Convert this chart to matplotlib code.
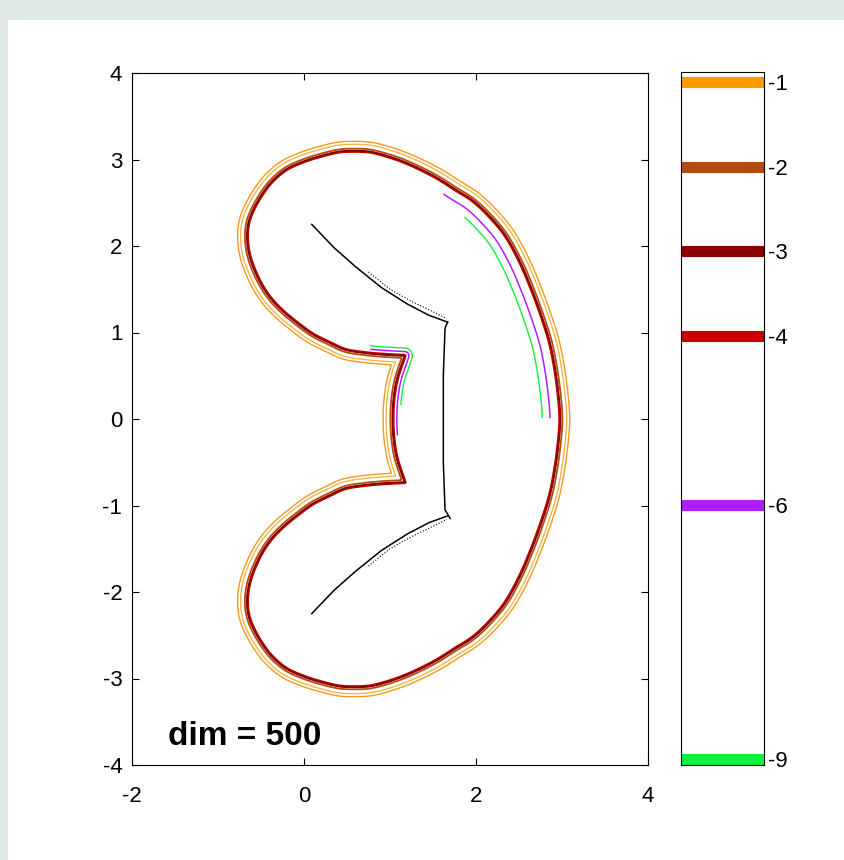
import numpy as np
import matplotlib
matplotlib.use("Agg")
import matplotlib.pyplot as plt
from matplotlib.path import Path
from matplotlib.patches import Rectangle

plt.rcParams['font.family'] = ['Liberation Sans Narrow', 'Liberation Sans', 'DejaVu Sans']
plt.rcParams['axes.unicode_minus'] = False
plt.rcParams['contour.negative_linestyle'] = 'solid'

# upper half of the level -3 outline: from the top corner of the notch, round the top, to the right side
outline_x = [1.17, 0.90, 0.69, 0.48, 0.30, 0.10, -0.08, -0.25, -0.40, -0.52, -0.62, -0.66, -0.65,
             -0.59, -0.48, -0.36, -0.20, 0.00, 0.19, 0.40, 0.57, 0.77, 0.97, 1.17, 1.37, 1.56,
             1.75, 1.97, 2.17, 2.35, 2.52, 2.66, 2.77, 2.86, 2.92, 2.96, 2.98]
outline_y = [0.73, 0.745, 0.765, 0.80, 0.88, 0.98, 1.11, 1.25, 1.41, 1.60, 1.84, 2.05, 2.25,
             2.42, 2.61, 2.76, 2.89, 2.98, 3.04, 3.09, 3.10, 3.09, 3.04, 2.97, 2.88, 2.78,
             2.66, 2.52, 2.33, 2.11, 1.80, 1.47, 1.17, 0.88, 0.58, 0.28, 0.00]
# upper half of the notch, middle to top corner
notch_x = [1.03, 1.04, 1.08, 1.17]
notch_y = [0.00, 0.22, 0.46, 0.73]

# skeleton (black), upper half
branch_x = [0.09, 0.35, 0.60, 0.90, 1.20, 1.45, 1.67]
branch_y = [2.25, 1.98, 1.76, 1.52, 1.33, 1.20, 1.12]
branch2_x = [0.75, 1.00, 1.25, 1.50, 1.66]
branch2_y = [1.70, 1.50, 1.36, 1.24, 1.16]
spine_x = [1.67, 1.64, 1.62, 1.62, 1.64, 1.70]
spine_y = [1.12, 1.05, 0.50, -0.50, -1.05, -1.15]

levels = [-1, -2, -3, -4, -6, -9]
level_colors = ['#ff9900', '#b04c10', '#8b0000', '#c80000', '#b01eff', '#10f040']

# distance of each contour from the outline (positive = outside)
orange_off = [0.075, 0.11]
dark_off = [-0.015, 0.0, 0.025]
purple_arc_off, green_arc_off = -0.12, -0.21
purple_notch_off, green_notch_off = -0.05, -0.09


def smooth(px, py, n=6):
    p = np.column_stack([px, py])
    p = np.vstack([2 * p[0] - p[1], p, 2 * p[-1] - p[-2]])
    t = np.linspace(0, 1, n, endpoint=False)[:, None]
    out = []
    for i in range(1, len(p) - 2):
        p0, p1, p2, p3 = p[i - 1], p[i], p[i + 1], p[i + 2]
        out.append(0.5 * (2 * p1 + (-p0 + p2) * t + (2 * p0 - 5 * p1 + 4 * p2 - p3) * t ** 2
                          + (-p0 + 3 * p1 - 3 * p2 + p3) * t ** 3))
    out.append(p[-2][None])
    return np.vstack(out)


ox = np.array(outline_x)
oy = np.array(outline_y)
outer = smooth(np.r_[ox, ox[::-1][1:]], np.r_[oy, -oy[::-1][1:]])
nx = np.array(notch_x)
ny = np.array(notch_y)
notch = smooth(np.r_[nx[::-1], nx[1:]], np.r_[-ny[::-1], ny[1:]])
poly = np.vstack([outer, notch[1:]])

gx = np.arange(-1.2, 3.6, 0.01)
gy = np.arange(-3.7, 3.7, 0.01)
X, Y = np.meshgrid(gx, gy)
d = np.full(X.shape, np.inf)
for (x0, y0), (x1, y1) in zip(poly[:-1], poly[1:]):
    dx, dy = x1 - x0, y1 - y0
    L = dx * dx + dy * dy
    if L == 0:
        continue
    t = np.clip(((X - x0) * dx + (Y - y0) * dy) / L, 0, 1)
    d = np.minimum(d, np.hypot(X - x0 - t * dx, Y - y0 - t * dy))
inside = Path(poly).contains_points(np.column_stack([X.ravel(), Y.ravel()])).reshape(X.shape)
sd = np.where(inside, -d, d)

fig = plt.figure(figsize=(8.45, 8.6), dpi=100)
fig.patch.set_facecolor('#e2eae7')
fig.add_artist(Rectangle((8 / 845, 0), 1, 840 / 860, transform=fig.transFigure,
                         facecolor='white', edgecolor='none', zorder=-1))

ax = fig.add_axes([132 / 845, 95 / 860, 516 / 845, 692 / 860])
ax.contour(X, Y, sd, levels=orange_off, colors=['#f7b54a', '#f29a1c'], linewidths=1.0,
           linestyles='solid')
ax.contour(X, Y, sd, levels=dark_off, colors=[level_colors[3], level_colors[2], level_colors[1]],
           linewidths=[1.0, 1.5, 1.3], linestyles='solid')

ang = np.degrees(np.arctan2(Y, X - 0.7))
arc_p = np.ma.masked_where(~((Y >= 0) & (ang <= 70.6) & (X > 1.45)), sd)
arc_g = np.ma.masked_where(~((Y >= 0) & (ang <= 63.6) & (X > 1.45)), sd)
ax.contour(X, Y, arc_p, levels=[purple_arc_off], colors=[level_colors[4]], linewidths=1.1,
           linestyles='solid')
ax.contour(X, Y, arc_g, levels=[green_arc_off], colors=[level_colors[5]], linewidths=1.0,
           linestyles='solid')
notch_p = np.ma.masked_where(~((X > 0.77) & (X < 1.45) & (Y > -0.2) & (Y < 1.0)), sd)
notch_g = np.ma.masked_where(~((X > 0.77) & (X < 1.45) & (Y > 0.15) & (Y < 1.0)), sd)
ax.contour(X, Y, notch_p, levels=[purple_notch_off], colors=[level_colors[4]], linewidths=1.1,
           linestyles='solid')
ax.contour(X, Y, notch_g, levels=[green_notch_off], colors=[level_colors[5]], linewidths=1.0,
           linestyles='solid')

bx = np.array(branch_x)
by = np.array(branch_y)
b2x = np.array(branch2_x)
b2y = np.array(branch2_y)
ax.plot(bx, by, color='black', lw=1.1)
ax.plot(bx, -by, color='black', lw=1.1)
ax.plot(b2x, b2y, color='black', lw=0.8, ls=':')
ax.plot(b2x, -b2y, color='black', lw=0.8, ls=':')
ax.plot(spine_x, spine_y, color='black', lw=1.1)

ax.text(-1.58, -3.77, 'dim = 500', fontsize=24, fontweight='bold', family='Liberation Sans',
        ha='left', va='baseline')

ax.set_xlim(-2, 4)
ax.set_ylim(-4, 4)
ax.set_xticks([-2, 0, 2, 4])
ax.set_yticks(range(-4, 5))
ax.tick_params(direction='in', top=True, right=True, length=5, width=0.8, labelsize=16)
ax.tick_params(axis='x', pad=15)
ax.tick_params(axis='y', pad=7)
for s in ax.spines.values():
    s.set_linewidth(0.8)

cax = fig.add_axes([681 / 845, 95 / 860, 83 / 845, 693 / 860])
for lv, c in zip(levels, level_colors):
    cax.plot([0, 1], [lv, lv], color=c, lw=8, solid_capstyle='butt')
cax.set_xlim(0, 1)
cax.set_ylim(-9.07, -0.88)
cax.set_xticks([])
cax.set_yticks(levels)
cax.yaxis.tick_right()
cax.tick_params(axis='y', length=0, pad=3, labelsize=16)
for s in cax.spines.values():
    s.set_linewidth(0.8)

fig.savefig('out.png', dpi=100, facecolor=fig.get_facecolor())
